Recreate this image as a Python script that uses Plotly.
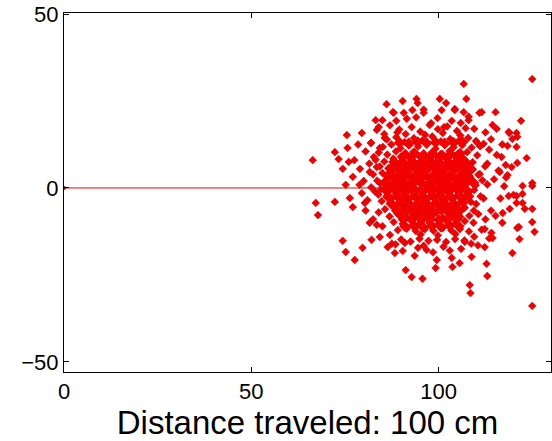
import plotly.graph_objects as go

# Path line from origin to target distance
line_x = [0, 100]
line_y = [0, 0]

# Sparse outlying points
outer_x = [125.0, 106.7, 86.1, 90.4, 94.1, 94.4, 100.3, 102.0, 107.4, 104.3,
           106.7, 111.5, 115.2, 122.0, 87.8, 90.7, 93.0, 96.0, 83.2, 85.0,
           88.7, 75.5, 79.5, 83.5, 66.4, 72.3, 75.7, 73.3, 76.0, 74.4,
           77.1, 75.2, 123.5, 121.0, 125.0, 120.8, 118.9, 121.0, 116.8, 67.2,
           67.8, 72.3, 76.3, 125.0, 108.3, 108.5, 95.7, 92.8, 91.2, 99.2,
           103.7, 105.6, 113.0, 112.8, 119.7, 77.6, 75.2, 74.4, 79.7, 82.1,
           84.3, 121.6, 125.6, 125.0, 121.0, 125.0, 122.4, 125.0, 117.0, 88.3,
           93.6, 99.5, 103.5, 96.8, 90.4, 86.4, 108.8, 112.3, 114.4, 77.1,
           80.3, 81.6, 83.5, 118.7, 120.8, 122.4, 120.8, 123.0, 121.4, 117.1,
           114.1, 112.3, 118.7, 120.8, 119.7, 118.4, 117.9, 122.4, 118.4, 116.3,
           100.8, 104.3, 110.9, 99.7, 103.5, 105.9, 108.0, 114.4, 88.0, 81.9,
           84.3, 82.7, 81.6, 78.9, 84.3, 85.6]
outer_y = [31.3, 29.9, 24.1, 25.0, 25.6, 24.4, 25.6, 24.4, 25.6, 22.7,
           21.8, 21.8, 21.8, 19.3, 21.8, 21.6, 22.4, 21.6, 19.5, 19.5,
           19.3, 15.2, 15.8, 16.7, 8.0, 10.3, 11.5, 8.3, 7.5, 5.5,
           3.2, 0.9, 8.6, 7.2, 1.4, 11.8, 15.8, 14.7, 8.9, -4.3,
           -7.8, -4.0, -2.9, -33.9, -27.9, -30.2, -26.1, -25.6, -23.6, -23.0,
           -22.7, -21.6, -25.3, -21.8, -18.7, -20.7, -18.4, -15.2, -17.2, -14.9,
           -14.1, -14.7, -12.6, -9.8, -11.5, -6.0, -4.3, 0.6, -10.0, -18.7,
           -19.5, -20.7, -20.1, -17.8, -18.1, -17.0, -19.8, -17.0, -14.4, -5.5,
           -4.3, -10.0, -10.6, -2.3, -2.3, -1.7, -4.3, -6.0, -11.2, -7.2,
           -12.9, -11.8, 16.1, 15.8, 14.1, 12.1, 6.6, 0.6, 3.7, 4.6,
           22.4, 22.4, 21.6, 20.1, 19.3, 18.7, 19.5, 18.1, 21.6, 12.9,
           11.5, 8.9, 4.6, 0.9, 1.4, 14.4]

# Mid-density ring points
ring_x = [84.0, 87.0, 91.5, 94.0, 98.0, 101.5, 109.5, 112.5, 114.0, 113.5,
          115.5, 116.0, 114.8, 117.5, 116.5, 114.0, 112.5, 115.2, 111.5, 109.5,
          110.5, 106.0, 103.0, 98.5, 94.5, 91.0, 87.0, 85.0, 82.5, 80.5,
          81.0, 79.5, 80.0, 79.0, 81.5, 80.5, 82.0, 85.5, 78.5, 77.5,
          119.0, 118.0, 120.0, 119.5, 117.0, 115.5, 108.0, 96.0, 89.0, 113.0,
          112.0, 111.0, 113.5, 107.0, 87.5, 84.0, 83.0, 83.5, 110.0, 113.0]
ring_y = [17.5, 18.0, 19.9, 20.3, 18.6, 17.5, 17.0, 16.0, 14.0, 11.0,
          9.5, 5.0, 2.5, 0.5, -3.0, -6.5, -9.0, -8.0, -12.0, -14.0,
          -16.5, -17.5, -18.0, -18.5, -17.2, -15.8, -13.5, -11.0, -9.0, -6.5,
          -3.5, -1.5, 2.0, 5.5, 7.0, 10.5, 13.0, 15.5, 12.5, 8.0,
          -6.0, 3.0, -2.0, 6.0, 12.5, 17.0, 20.5, 22.5, 16.0, 7.0,
          -3.0, 4.0, -14.5, -15.5, -16.0, -7.0, -1.0, 6.0, 13.5, 1.0]

# Dense core points
core_x = [89.5, 92.8, 95.1, 97.6, 99.8, 102.3, 104.9, 107.2, 91.2, 96.4, 101.1, 105.8,
          86.2, 88.7, 90.9, 93.4, 95.7, 98.3, 100.6, 103.1, 105.4, 107.9, 110.2, 112.0,
          85.1, 87.4, 89.8, 92.1, 94.5, 96.9, 99.2, 101.7, 104.0, 106.3, 108.8, 111.1,
          84.0, 86.3, 88.6, 91.0, 93.3, 95.8, 98.1, 100.5, 102.9, 105.2, 107.6, 110.3,
          83.2, 85.5, 87.9, 90.2, 92.6, 95.0, 97.3, 99.7, 102.1, 104.5, 106.8, 109.1,
          84.3, 86.6, 89.0, 91.4, 93.8, 96.1, 98.5, 100.9, 103.3, 105.6, 108.0, 112.4,
          82.5, 85.0, 87.3, 89.7, 92.0, 94.4, 96.8, 99.1, 101.5, 103.9, 106.2, 110.6,
          83.6, 86.0, 88.4, 90.8, 93.1, 95.5, 97.9, 100.3, 102.7, 105.0, 107.4, 111.7,
          82.0, 84.6, 87.0, 89.3, 91.7, 94.1, 96.4, 98.8, 101.2, 103.6, 106.0, 109.5,
          83.9, 86.2, 88.6, 91.0, 93.4, 95.7, 98.1, 100.5, 102.8, 105.3, 107.7, 111.2,
          84.8, 87.2, 89.6, 92.0, 94.3, 96.7, 99.0, 101.4, 103.8, 106.1, 108.6, 110.0,
          85.7, 88.1, 90.5, 92.9, 95.2, 97.6, 100.0, 102.3, 104.7, 107.0, 109.4, 88.9,
          86.9, 89.3, 91.6, 94.0, 96.4, 98.7, 101.1, 103.5, 105.8, 108.2, 110.6, 97.5,
          88.0, 90.4, 92.8, 95.1, 97.5, 99.9, 102.2, 104.6, 107.0, 109.3, 93.9, 101.0,
          89.1, 91.5, 93.9, 96.3, 98.6, 101.0, 103.4, 105.7, 108.1, 95.2, 99.8, 104.5,
          90.0, 92.5, 94.9, 97.3, 99.6, 102.0, 104.4, 106.9, 96.0, 101.3, 88.5, 108.7,
          89.9, 92.3, 94.7, 97.0, 99.4, 101.8, 104.1, 106.5,
          88.8, 91.2, 93.6, 96.0, 98.3, 100.7, 103.0, 105.4, 107.8,
          87.7, 90.1, 92.5, 94.9, 97.2, 99.6, 102.0, 104.3, 106.7, 109.0,
          87.0, 89.4, 91.8, 94.2, 96.6, 99.0, 101.3, 103.7, 106.1, 108.5,
          86.1, 88.5, 90.9, 93.3, 95.6, 98.0, 100.4, 102.8, 105.1, 107.5, 109.9,
          86.7, 89.1, 91.5, 93.8, 96.2, 98.6, 101.0, 103.3, 105.7, 108.1,
          87.5, 89.9, 92.2, 94.6, 97.0, 99.4, 101.7, 104.1, 106.5,
          88.3, 90.7, 93.1, 95.4, 97.8, 100.2, 102.5, 104.9,
          90.0, 92.4, 94.7, 97.1, 99.5, 101.9, 104.2]
core_y = [16.8, 17.5, 16.2, 18.1, 16.9, 17.7, 16.4, 17.2, 15.5, 15.3, 15.8, 15.1,
          13.9, 14.6, 13.2, 14.3, 13.7, 14.8, 13.4, 14.1, 13.6, 14.4, 13.1, 12.7,
          11.8, 12.5, 11.4, 12.2, 11.9, 12.7, 11.3, 12.4, 11.7, 12.3, 11.6, 12.0,
          10.2, 9.6, 10.5, 9.8, 10.4, 9.5, 10.1, 9.7, 10.6, 9.9, 10.3, 9.4,
          8.1, 7.6, 8.4, 7.9, 8.3, 7.5, 8.2, 7.8, 8.5, 7.7, 8.0, 7.4,
          6.2, 5.7, 6.4, 5.9, 6.1, 5.6, 6.3, 5.8, 6.5, 6.0, 5.5, 6.2,
          3.9, 4.3, 3.6, 4.1, 3.8, 4.4, 3.5, 4.2, 3.7, 4.5, 4.0, 3.8,
          2.1, 1.6, 2.4, 1.8, 2.2, 1.5, 2.3, 1.9, 2.5, 1.7, 2.0, 2.2,
          0.2, -0.4, 0.5, -0.1, 0.3, -0.5, 0.4, -0.2, 0.6, -0.3, 0.1, -0.6,
          -1.9, -2.4, -1.6, -2.2, -1.8, -2.5, -1.7, -2.1, -2.3, -1.5, -2.0, -2.4,
          -3.8, -4.3, -3.6, -4.1, -4.4, -3.7, -4.2, -3.9, -4.5, -3.5, -4.0, -4.6,
          -6.1, -5.6, -6.4, -5.8, -6.2, -5.5, -6.3, -5.9, -6.0, -5.7, -6.5, -7.2,
          -8.2, -7.7, -8.4, -7.9, -8.1, -7.6, -8.5, -7.8, -8.3, -8.0, -7.5, -9.3,
          -9.8, -10.3, -9.6, -10.1, -9.9, -10.4, -9.7, -10.2, -9.5, -10.0, -11.2, -11.5,
          -12.1, -11.7, -12.4, -11.9, -12.3, -11.6, -12.2, -11.8, -12.5, -13.4, -13.6, -13.2,
          -14.8, -15.4, -14.6, -15.2, -14.9, -15.5, -14.7, -15.1, -16.6, -16.9, -16.2, -16.0,
          9.0, 8.8, 9.2, 8.7, 9.1, 8.9, 9.3, 8.6,
          7.0, 6.8, 7.2, 6.9, 7.1, 6.7, 7.3, 6.9, 7.0,
          5.0, 4.8, 5.2, 4.9, 5.1, 4.7, 5.3, 4.9, 5.0, 5.2,
          3.0, 2.8, 3.2, 2.9, 3.1, 2.7, 3.3, 2.9, 3.0, 2.8,
          1.0, 0.8, 1.2, 0.9, 1.1, 0.7, 1.3, 0.9, 1.0, 1.2, 0.8,
          -1.0, -0.8, -1.2, -0.9, -1.1, -0.7, -1.3, -0.9, -1.0, -1.2,
          -3.0, -2.8, -3.2, -2.9, -3.1, -2.7, -3.3, -2.9, -3.0,
          -5.0, -4.8, -5.2, -4.9, -5.1, -4.7, -5.3, -4.9,
          -7.0, -6.8, -7.2, -6.9, -7.1, -6.7, -7.3]

# Overlapping points in the solid centre of the cloud
fill_x = [91.1, 93.6, 96.0, 98.4, 100.9, 103.2, 105.7,
          88.1, 90.6, 93.0, 95.3, 97.8, 100.1, 102.6, 104.9, 107.4,
          87.2, 89.6, 92.0, 94.5, 96.9, 99.3, 101.6, 104.0, 106.4, 108.7,
          86.4, 88.8, 91.2, 93.6, 96.0, 98.3, 100.8, 103.1, 105.5, 107.9,
          85.6, 88.0, 90.3, 92.7, 95.1, 97.5, 99.9, 102.2, 104.6, 107.0, 109.3,
          85.8, 88.2, 90.5, 92.9, 95.3, 97.6, 100.0, 102.4, 104.8, 107.2,
          86.5, 88.9, 91.3, 93.7, 96.0, 98.4, 100.8, 103.2, 105.6, 108.0,
          87.4, 89.8, 92.2, 94.6, 97.0, 99.3, 101.7, 104.1, 106.5,
          88.8, 91.2, 93.6, 96.0, 98.4, 100.7, 103.1, 105.5,
          90.6, 93.0, 95.4, 97.7, 100.1, 102.5, 104.8,
          89.6, 92.0, 94.4, 96.8, 99.2, 101.6, 104.0, 106.4,
          91.0, 93.4, 95.8, 98.2, 100.6, 103.0, 105.4]
fill_y = [9.6, 9.9, 9.5, 9.8, 9.4, 9.7, 9.9,
          7.5, 7.3, 7.6, 7.4, 7.7, 7.3, 7.5, 7.6, 7.2,
          5.5, 5.3, 5.6, 5.4, 5.7, 5.3, 5.5, 5.6, 5.2, 5.4,
          3.5, 3.3, 3.6, 3.4, 3.7, 3.3, 3.5, 3.6, 3.2, 3.4,
          1.5, 1.3, 1.6, 1.4, 1.7, 1.3, 1.5, 1.6, 1.2, 1.4, 1.5,
          -0.5, -0.3, -0.6, -0.4, -0.7, -0.3, -0.5, -0.6, -0.2, -0.4,
          -2.5, -2.3, -2.6, -2.4, -2.7, -2.3, -2.5, -2.6, -2.2, -2.4,
          -4.5, -4.3, -4.6, -4.4, -4.7, -4.3, -4.5, -4.6, -4.2,
          -6.5, -6.3, -6.6, -6.4, -6.7, -6.3, -6.5, -6.6,
          -9.0, -8.8, -9.1, -8.9, -9.2, -8.8, -9.0,
          13.0, 12.8, 13.2, 12.9, 13.1, 12.8, 13.0, 13.2,
          -11.0, -10.8, -11.2, -10.9, -11.1, -10.8, -11.0]

x_ticks = [0, 50, 100]
y_ticks = [-50, 0, 50]
x_title = "Distance traveled: 100 cm"

FONT = "Liberation Sans, Arial, Helvetica, sans-serif"
RED = "#f20000"

fig = go.Figure()
fig.add_trace(go.Scatter(
    x=line_x, y=line_y, mode="lines+markers",
    line=dict(color="#d01010", width=1),
    marker=dict(color="#8b1a1a", size=4),
    hoverinfo="skip", showlegend=False))

pts_x = outer_x + ring_x + core_x
pts_y = outer_y + ring_y + core_y
fig.add_trace(go.Scatter(
    x=pts_x, y=pts_y, mode="markers",
    marker=dict(symbol="diamond", size=6, color=RED,
                line=dict(color="#b3141e", width=0.6)),
    showlegend=False))

# centre points overlap heavily; drawn last so the core reads as a solid blob
fig.add_trace(go.Scatter(
    x=fill_x, y=fill_y, mode="markers",
    marker=dict(symbol="diamond", size=9, color=RED, line=dict(width=0)),
    showlegend=False))

fig.update_layout(
    width=552, height=441,
    margin=dict(l=64, r=1, t=13, b=69),
    paper_bgcolor="white", plot_bgcolor="white",
    font=dict(family=FONT, color="black"),
    xaxis=dict(range=[0, 130], tickvals=x_ticks, ticks="inside", ticklen=5,
               tickcolor="black", showline=True, linecolor="black", linewidth=1,
               mirror="ticks", showgrid=False, zeroline=False,
               tickfont=dict(size=22, family=FONT),
               title=dict(text=x_title, font=dict(size=33, family=FONT), standoff=8)),
    yaxis=dict(range=[-52.9, 50.3], tickvals=y_ticks, ticks="inside", ticklen=5,
               tickcolor="black", showline=True, linecolor="black", linewidth=1,
               mirror="ticks", showgrid=False, zeroline=False,
               tickfont=dict(size=22, family=FONT)),
)

fig.write_html("out.html")
